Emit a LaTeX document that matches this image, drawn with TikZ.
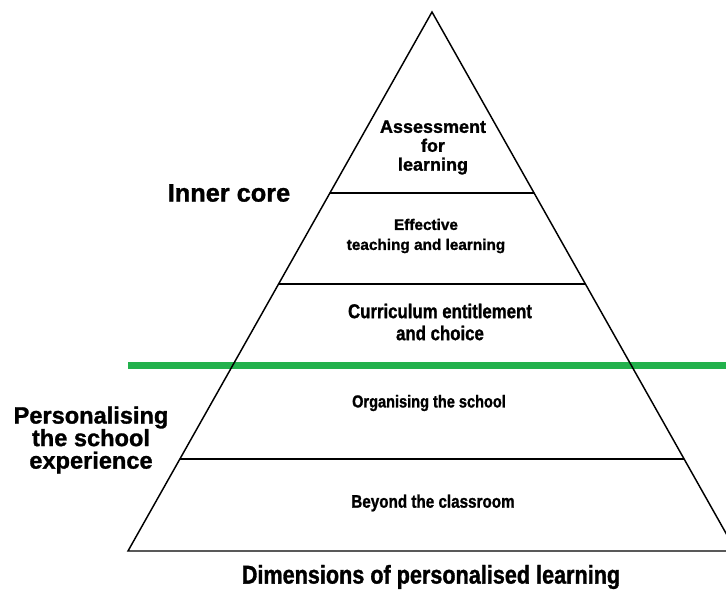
\documentclass[tikz,border=0pt]{standalone}
\usepackage{fontspec}
\setmainfont{Liberation Sans}[BoldFeatures={FakeBold=1.2}]
\newfontfamily\narrowfont[FakeStretch=0.84,BoldFeatures={FakeBold=1.2}]{Liberation Sans}
\usetikzlibrary{calc}
\definecolor{dividergreen}{RGB}{34,177,76}

\begin{document}
\begin{tikzpicture}[x=0.75pt,y=-0.75pt,
    edge/.style={line width=1.1pt,color=black},
    layer/.style={align=center,inner sep=0pt,font=\bfseries},
    side/.style={align=center,inner sep=0pt,font=\bfseries}]
    \useasboundingbox (0,0) rectangle (726,592);

    \coordinate (apex) at (432,12);
    \coordinate (baseL) at (128,551);
    \coordinate (baseR) at (736,551);

    \begin{scope}
    \clip (0,0) rectangle (726,592);
    % divider between the two groups
    \draw[line width=5.25pt,color=dividergreen] (128,365) -- (726,365);
    % pyramid
    \draw[edge] (apex) -- (baseL) -- (baseR) -- cycle;
    \draw[edge] ($(apex)!0.3358!(baseL)$) -- ($(apex)!0.3358!(baseR)$);
    \draw[edge] ($(apex)!0.5046!(baseL)$) -- ($(apex)!0.5046!(baseR)$);
    \draw[edge] ($(apex)!0.8293!(baseL)$) -- ($(apex)!0.8293!(baseR)$);
    \end{scope}

    \node[layer,font=\bfseries\fontsize{13.5}{14.2}\selectfont] (afl) at (433,147.5) {Assessment\\for\\learning};
    \node[layer,font=\bfseries\fontsize{11.5}{15}\selectfont] (etl) at (426,236) {Effective\\teaching and learning};
    \node[layer,font=\narrowfont\bfseries\fontsize{15}{16.5}\selectfont] (cec) at (440,322) {Curriculum entitlement\\and choice};
    \node[layer,font=\narrowfont\bfseries\fontsize{13}{15}\selectfont] (ots) at (429,403) {Organising the school};
    \node[layer,font=\narrowfont\bfseries\fontsize{13.6}{15}\selectfont] (btc) at (433,503) {Beyond the classroom};

    \node[side,font=\bfseries\fontsize{19}{22}\selectfont] (inner) at (229,193) {Inner core};
    \node[side,font=\bfseries\fontsize{17.7}{16.9}\selectfont] (pse) at (91,440) {Personalising\\the school\\experience};
    \node[side,font=\narrowfont\bfseries\fontsize{19.3}{22}\selectfont] (dpl) at (431,577) {Dimensions of personalised learning};
\end{tikzpicture}
\end{document}
